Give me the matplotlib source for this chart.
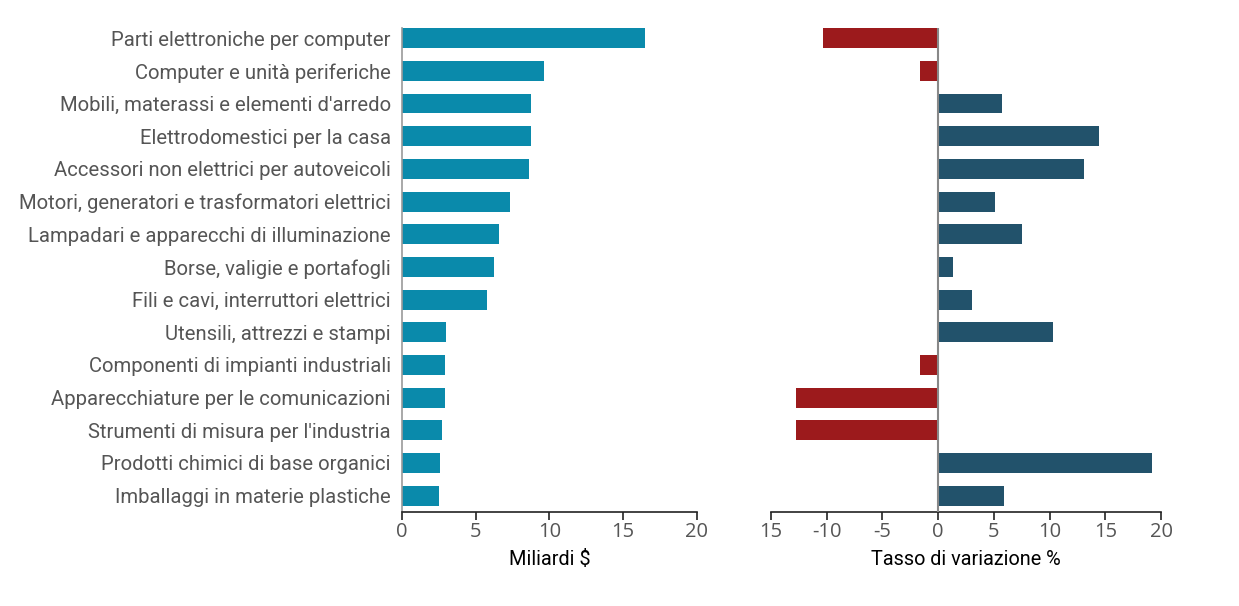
import matplotlib.pyplot as plt

categories = [
    "Parti elettroniche per computer",
    "Computer e unità periferiche",
    "Mobili, materassi e elementi d'arredo",
    "Elettrodomestici per la casa",
    "Accessori non elettrici per autoveicoli",
    "Motori, generatori e trasformatori elettrici",
    "Lampadari e apparecchi di illuminazione",
    "Borse, valigie e portafogli",
    "Fili e cavi, interruttori elettrici",
    "Utensili, attrezzi e stampi",
    "Componenti di impianti industriali",
    "Apparecchiature per le comunicazioni",
    "Strumenti di misura per l'industria",
    "Prodotti chimici di base organici",
    "Imballaggi in materie plastiche",
]
valore = [16.5, 9.6, 8.75, 8.75, 8.6, 7.3, 6.6, 6.25, 5.75, 2.98, 2.9, 2.9, 2.7, 2.6, 2.5]
variazione = [-10.3, -1.6, 5.75, 14.45, 13.1, 5.1, 7.5, 1.35, 3.05, 10.3, -1.6, -12.75, -12.75, 19.2, 5.9]

left_ticks = [0, 5, 10, 15, 20]
right_ticks = [-15, -10, -5, 0, 5, 10, 15, 20]
right_ticklabels = ["15", "-10", "-5", "0", "5", "10", "15", "20"]

TEAL = "#0a8aab"
POS = "#22526b"
NEG = "#9c1a1c"
GRAY = "#555555"

plt.rcParams["font.family"] = ["Roboto", "DejaVu Sans"]

fig = plt.figure(figsize=(12.39, 6.06), dpi=100)
ax1 = fig.add_axes([0.3245, 0.1551, 0.238, 0.7987])
ax2 = fig.add_axes([0.6223, 0.1551, 0.3148, 0.7987])

y = list(range(len(categories)))
YLIM = (14.5, -0.31)

ax1.barh(y, valore, height=0.61, color=TEAL)
ax1.set_xlim(0, 20)
ax1.set_ylim(*YLIM)
ax1.set_yticks(y)
ax1.set_yticklabels(categories, fontsize=14.6, color=GRAY)
ax1.tick_params(axis="y", length=0, pad=8)
ax1.set_xticks(left_ticks)
ax1.set_xticklabels([str(t) for t in left_ticks], fontsize=14.5, color=GRAY,
                    family=["Open Sans", "DejaVu Sans"])
ax1.tick_params(axis="x", length=6, width=1.2, color="#222222", pad=1)
ax1.set_xlabel("Miliardi $", fontsize=14.3, color="black", labelpad=6)
for s in ["top", "right"]:
    ax1.spines[s].set_visible(False)
ax1.spines["left"].set_color("#999999")
ax1.spines["left"].set_linewidth(1.2)
ax1.spines["bottom"].set_color("#222222")
ax1.spines["bottom"].set_linewidth(1.2)

colors = [POS if v >= 0 else NEG for v in variazione]
ax2.barh(y, variazione, height=0.61, color=colors)
ax2.axvline(0, color="#888888", linewidth=1.5, zorder=3)
ax2.set_xlim(-15, 20)
ax2.set_ylim(*YLIM)
ax2.set_yticks([])
ax2.set_xticks(right_ticks)
ax2.set_xticklabels(right_ticklabels, fontsize=14.5, color=GRAY,
                    family=["Open Sans", "DejaVu Sans"])
ax2.tick_params(axis="x", length=6, width=1.2, color="#222222", pad=1)
ax2.set_xlabel("Tasso di variazione %", fontsize=14.3, color="black", labelpad=6)
for s in ["top", "right", "left"]:
    ax2.spines[s].set_visible(False)
ax2.spines["bottom"].set_color("#222222")
ax2.spines["bottom"].set_linewidth(1.2)

fig.savefig("out.png", dpi=100)
